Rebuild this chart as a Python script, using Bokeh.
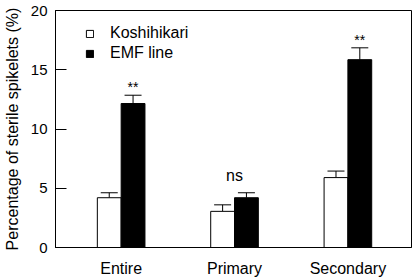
from bokeh.plotting import figure
from bokeh.models import ColumnDataSource, Whisker, TeeHead, Legend, LegendItem, FixedTicker, Range1d
from bokeh.core.properties import value
from bokeh.embed import file_html
from bokeh.resources import INLINE

# ---- data ----
categories = ["Entire", "Primary", "Secondary"]
koshihikari = [4.2, 3.05, 5.9]
koshihikari_err = [0.42, 0.55, 0.55]
emf_line = [12.15, 4.2, 15.85]
emf_line_err = [0.7, 0.42, 1.0]
significance = ["**", "ns", "**"]
y_ticks = [0, 5, 10, 15, 20]

FONT = "Liberation Sans"
group_x = [i + 1 for i in range(len(categories))]
off = 0.105
bw = 0.21

p = figure(width=414, height=279, output_backend="svg", toolbar_location=None,
           x_range=Range1d(0.421, 3.561), y_range=Range1d(0, 20),
           min_border_left=53, min_border_right=3, min_border_top=10, min_border_bottom=29)
p.xgrid.visible = False
p.ygrid.visible = False
p.outline_line_color = "black"
p.outline_line_width = 1
p.background_fill_color = "white"
p.border_fill_color = "white"

src_k = ColumnDataSource(dict(x=[g - off for g in group_x], top=koshihikari,
                              upper=[v + e for v, e in zip(koshihikari, koshihikari_err)]))
src_e = ColumnDataSource(dict(x=[g + off for g in group_x], top=emf_line,
                              upper=[v + e for v, e in zip(emf_line, emf_line_err)]))

rk = p.vbar(x="x", top="top", bottom=0, width=bw, source=src_k,
            fill_color="white", line_color="black", line_width=1)
re_ = p.vbar(x="x", top="top", bottom=0, width=bw, source=src_e,
             fill_color="black", line_color="black", line_width=1)

for src in (src_k, src_e):
    w = Whisker(base="x", lower="top", upper="upper", source=src,
                lower_head=None, upper_head=TeeHead(size=17, line_color="black", line_width=1),
                line_color="black", line_width=1)
    p.add_layout(w)

# significance labels
star_x, star_y, star_t = [], [], []
ns_x, ns_y, ns_t = [], [], []
for g, lab, vk, ek, ve, ee in zip(group_x, significance, koshihikari, koshihikari_err, emf_line, emf_line_err):
    if lab == "ns":
        ns_x.append(g)
        ns_y.append(max(vk + ek, ve + ee) + 1.43)
        ns_t.append(lab)
    else:
        star_x.append(g + off)
        star_y.append(ve + ee + 0.7)
        star_t.append(lab)
p.text(x=star_x, y=star_y, text=star_t, text_align="center", text_baseline="alphabetic",
       text_font=value(FONT), text_font_size="14px", text_color="black")
p.text(x=ns_x, y=ns_y, text=ns_t, text_align="center", text_baseline="alphabetic",
       text_font=value(FONT), text_font_size="16px", text_color="black")

# axes
p.yaxis.ticker = FixedTicker(ticks=y_ticks)
p.yaxis.major_tick_in = 11
p.yaxis.major_tick_out = 0
p.yaxis.minor_tick_in = 0
p.yaxis.minor_tick_out = 0
p.yaxis.major_label_standoff = 8
p.yaxis.major_label_text_font = FONT
p.yaxis.major_label_text_font_size = "15px"
p.yaxis.major_label_text_color = "black"
p.yaxis.axis_label = "Percentage of sterile spikelets (%)"
p.yaxis.axis_label_text_font = FONT
p.yaxis.axis_label_text_font_size = "16px"
p.yaxis.axis_label_text_font_style = "normal"
p.yaxis.axis_label_text_color = "black"
p.yaxis.axis_label_standoff = 7
p.yaxis.axis_line_color = "black"
p.yaxis.major_tick_line_color = "black"

p.xaxis.ticker = FixedTicker(ticks=group_x)
p.xaxis.major_label_overrides = {g: c for g, c in zip(group_x, categories)}
p.xaxis.major_tick_in = 0
p.xaxis.major_tick_out = 0
p.xaxis.minor_tick_in = 0
p.xaxis.minor_tick_out = 0
p.xaxis.major_label_standoff = 12
p.xaxis.major_label_text_font = FONT
p.xaxis.major_label_text_font_size = "16px"
p.xaxis.major_label_text_color = "black"
p.xaxis.axis_line_color = "black"

legend = Legend(items=[LegendItem(label="Koshihikari", renderers=[rk]),
                       LegendItem(label="EMF line", renderers=[re_])],
                location=(30, 184), padding=0, margin=0, spacing=0,
                glyph_width=9, glyph_height=9, label_standoff=16, label_height=20,
                label_text_font=FONT, label_text_font_size="16px", label_text_color="black",
                border_line_alpha=0, background_fill_alpha=0)
p.add_layout(legend)

open("out.html", "w").write(file_html(p, INLINE))
